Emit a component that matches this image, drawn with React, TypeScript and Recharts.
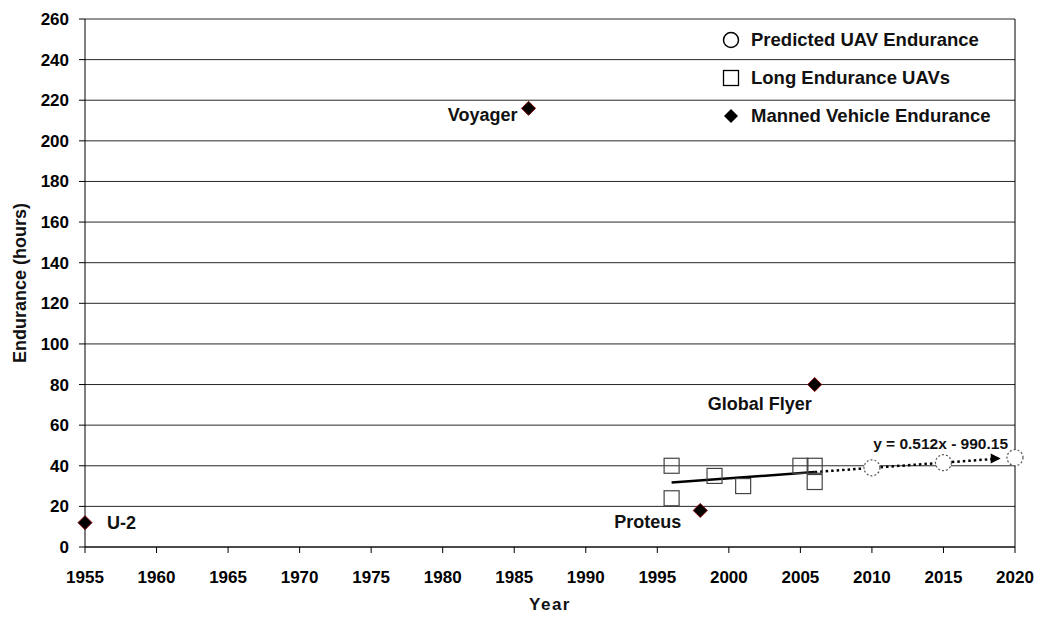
import {
  ScatterChart,
  Scatter,
  XAxis,
  YAxis,
  CartesianGrid,
  ReferenceLine,
} from "recharts";

// manned aircraft records
const mannedYears = [1955, 1986, 1998, 2006];
const mannedHours = [12, 216, 18, 80];
const mannedNames = ["U-2", "Voyager", "Proteus", "Global Flyer"];

// long endurance UAVs
const uavYears = [1996, 1996, 1999, 2001, 2005, 2006, 2006];
const uavHours = [40, 24, 35, 30, 40, 40, 32];

// predicted UAV endurance
const predictedYears = [2010, 2015, 2020];
const predictedHours = [39, 41.5, 44];

// linear fit (solid) and its projection (dotted, with arrow)
const fitYears = [1996, 2006];
const fitHours = [31.8, 36.9];
const projYears = [2006, 2019];
const projHours = [36.9, 43.6];

const fitLabel = "y = 0.512x - 990.15";
const fitLabelAt = { x: 2014.8, y: 48.5 };

const legendLabels = ["Predicted UAV Endurance", "Long Endurance UAVs", "Manned Vehicle Endurance"];

const xTicks = [1955, 1960, 1965, 1970, 1975, 1980, 1985, 1990, 1995, 2000, 2005, 2010, 2015, 2020];
const yTicks = [0, 20, 40, 60, 80, 100, 120, 140, 160, 180, 200, 220, 240, 260];

const FONT = "'Liberation Sans', Arial, sans-serif";

const zip = (xs: number[], ys: number[]) => xs.map((x, i) => ({ x, y: ys[i] }));

const mannedData = mannedYears.map((x, i) => ({ x, y: mannedHours[i], name: mannedNames[i] }));
const uavData = zip(uavYears, uavHours);
const predictedData = zip(predictedYears, predictedHours);
const fitData = zip(fitYears, fitHours);
const projData = zip(projYears, projHours);

// where each manned label sits relative to its marker
const labelPlacement: Record<string, { dx: number; dy: number; anchor: string }> = {
  "U-2": { dx: 22, dy: 6, anchor: "start" },
  Voyager: { dx: -11, dy: 13, anchor: "end" },
  Proteus: { dx: -19, dy: 18, anchor: "end" },
  "Global Flyer": { dx: -55, dy: 25, anchor: "middle" },
};

const Diamond = (props: any) => {
  const { cx, cy, payload } = props;
  const r = 7;
  const p = labelPlacement[payload.name];
  return (
    <g>
      <polygon
        points={`${cx},${cy - r} ${cx + r},${cy} ${cx},${cy + r} ${cx - r},${cy}`}
        fill="#000"
        stroke="#800000"
        strokeWidth={1}
      />
      {p && (
        <text
          x={cx + p.dx}
          y={cy + p.dy}
          textAnchor={p.anchor as any}
          fontSize={18}
          fontWeight="bold"
          fontFamily={FONT}
          fill="#111"
        >
          {payload.name}
        </text>
      )}
    </g>
  );
};

const Square = (props: any) => {
  const { cx, cy } = props;
  const s = 15;
  return (
    <rect x={cx - s / 2} y={cy - s / 2} width={s} height={s} fill="none" stroke="#444" strokeWidth={1.2} />
  );
};

const DashedCircle = (props: any) => {
  const { cx, cy } = props;
  return <circle cx={cx} cy={cy} r={8} fill="#fff" stroke="#555" strokeWidth={1.2} strokeDasharray="2 2" />;
};

const Nothing = () => <g />;

const ArrowEnd = (props: any) => {
  const { cx, cy, index } = props;
  if (index !== projData.length - 1) return <g />;
  return <polygon points={`${cx},${cy} ${cx - 10},${cy - 5} ${cx - 10},${cy + 5}`} fill="#000" />;
};

const FitLabel = (props: any) => {
  const { cx, cy } = props;
  return (
    <text x={cx} y={cy} textAnchor="middle" fontSize={15.5} fontWeight="bold" fontFamily={FONT} fill="#111">
      {fitLabel}
    </text>
  );
};

const legendIcons = [
  <circle cx={9} cy={9} r={7.5} fill="none" stroke="#000" strokeWidth={1.5} />,
  <rect x={1.5} y={1.5} width={15} height={15} fill="none" stroke="#000" strokeWidth={1.3} />,
  <polygon points="9,2 16,9 9,16 2,9" fill="#000" />,
];

const LegendBox = () => (
  <div
    style={{
      position: "absolute",
      left: 722,
      top: 21,
      fontFamily: FONT,
      fontWeight: "bold",
      fontSize: 18.5,
      color: "#111",
    }}
  >
    {legendLabels.map((label, i) => (
      <div key={label} style={{ display: "flex", alignItems: "center", height: 38 }}>
        <svg width={18} height={18} style={{ marginRight: 11 }}>
          {legendIcons[i]}
        </svg>
        {label}
      </div>
    ))}
  </div>
);

const tickStyle = { fill: "#000", fontSize: 17, fontWeight: "bold", fontFamily: FONT };

export default function App() {
  return (
    <div style={{ position: "absolute", left: 0, top: 0, width: 1037, height: 623, background: "#fff" }}>
      <ScatterChart
        width={1037}
        height={623}
        margin={{ top: 19, right: 22, left: 15, bottom: 16 }}
        style={{ fontFamily: FONT }}
      >
        <CartesianGrid vertical={false} stroke="#000" strokeWidth={1} strokeOpacity={0.85} />
        <XAxis
          type="number"
          dataKey="x"
          domain={[1955, 2020]}
          ticks={xTicks}
          height={60}
          stroke="#000"
          tickSize={6}
          tickMargin={18}
          tick={tickStyle}
          label={{
            value: "Year",
            position: "insideBottom",
            offset: -3,
            style: { fontSize: 17, fontWeight: "bold", fill: "#111", letterSpacing: 1.5, fontFamily: FONT },
          }}
        />
        <YAxis
          type="number"
          dataKey="y"
          domain={[0, 260]}
          ticks={yTicks}
          width={70}
          stroke="#000"
          tickSize={6}
          tickMargin={10}
          tick={tickStyle}
          label={{
            value: "Endurance (hours)",
            angle: -90,
            position: "insideLeft",
            offset: 5,
            style: { fontSize: 18, fontWeight: "bold", fill: "#111", textAnchor: "middle", fontFamily: FONT },
          }}
        />
        <ReferenceLine x={2020} stroke="#000" strokeWidth={1} />
        <Scatter
          data={fitData}
          line={{ stroke: "#000", strokeWidth: 2.5 }}
          lineType="joint"
          shape={Nothing}
          isAnimationActive={false}
        />
        <Scatter
          data={projData}
          line={{ stroke: "#000", strokeWidth: 2.5, strokeDasharray: "2.5 3" }}
          lineType="joint"
          shape={ArrowEnd}
          isAnimationActive={false}
        />
        <Scatter data={uavData} shape={Square} isAnimationActive={false} />
        <Scatter data={predictedData} shape={DashedCircle} isAnimationActive={false} />
        <Scatter data={mannedData} shape={Diamond} isAnimationActive={false} />
        <Scatter data={[fitLabelAt]} shape={FitLabel} isAnimationActive={false} />
      </ScatterChart>
      <LegendBox />
    </div>
  );
}
